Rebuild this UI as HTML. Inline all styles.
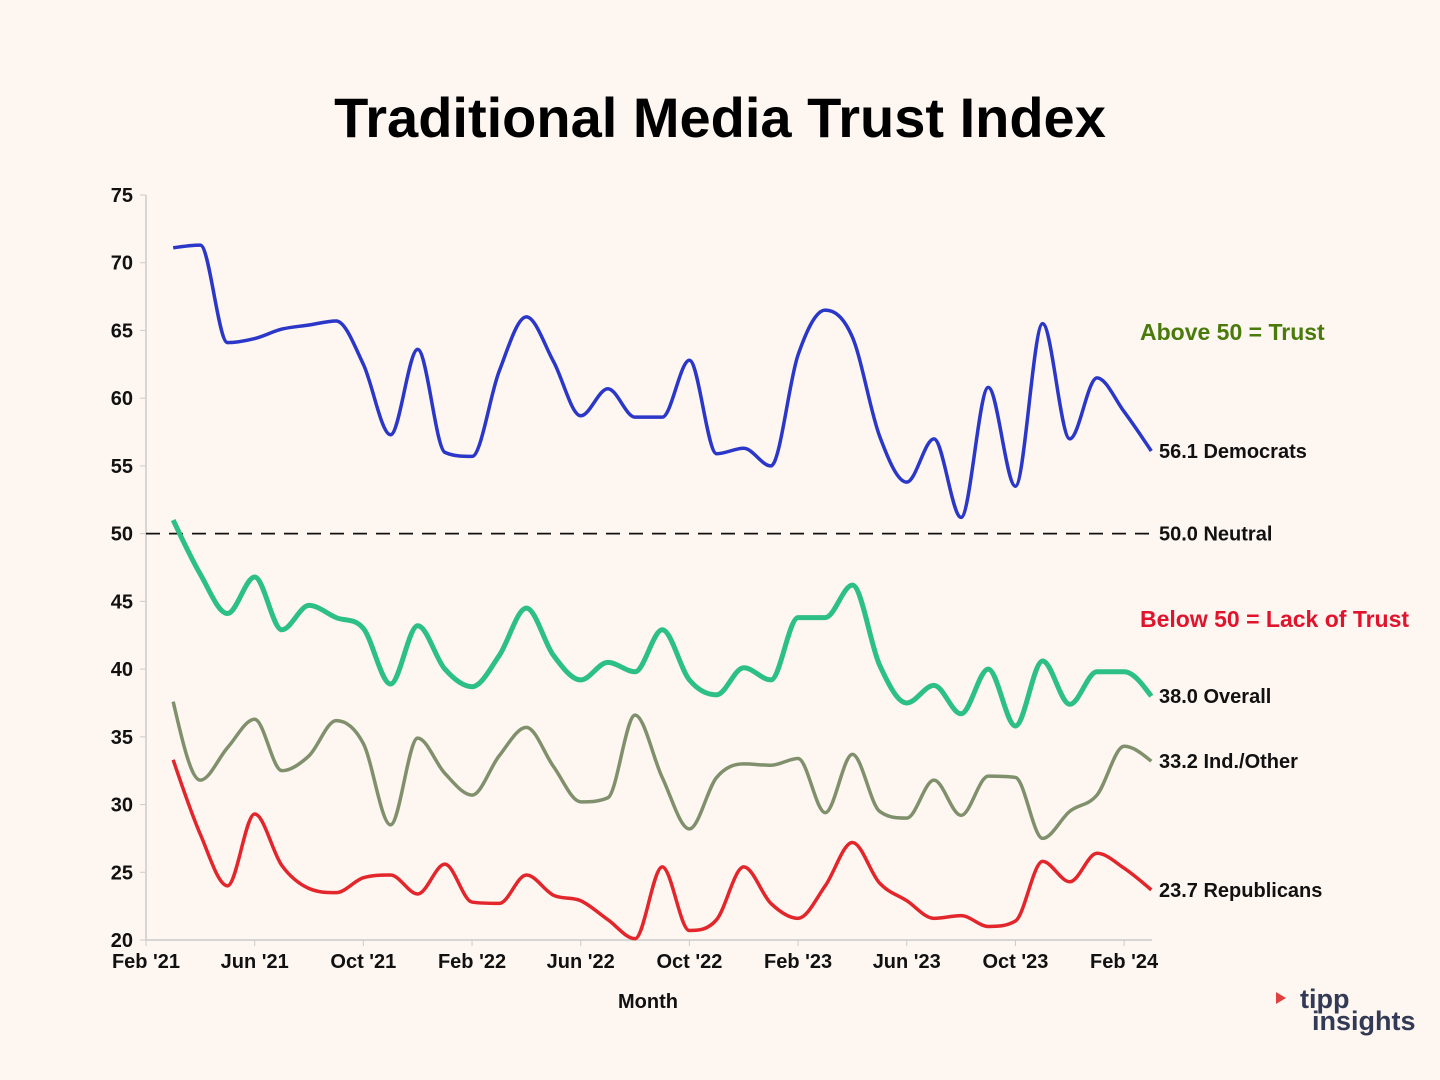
<!DOCTYPE html>
<html><head><meta charset="utf-8"><style>
body{margin:0;background:#fdf6f1;}
svg{display:block;font-family:"Liberation Sans",sans-serif;}
</style></head><body>
<svg id="chart" width="1440" height="1080">
<rect width="1440" height="1080" fill="#fdf6f1"/>
<text x="720" y="137" text-anchor="middle" font-size="56" font-weight="bold" fill="#000">Traditional Media Trust Index</text>
<g id="axes"></g>
<g id="series"></g>
<text x="648" y="1008" text-anchor="middle" font-size="20" font-weight="bold" fill="#111">Month</text>
<text x="1140" y="340" font-size="23" font-weight="bold" fill="#4a7a0c">Above 50 = Trust</text>
<text x="1140" y="627" font-size="23" font-weight="bold" fill="#e0142c">Below 50 = Lack of Trust</text>
<g>
<path d="M1276 992 l10 6 l-10 6 z" fill="#e04040"/>
<text x="1300" y="1008" font-size="27" font-weight="bold" fill="#333a55">tipp</text>
<text x="1312" y="1030" font-size="27" font-weight="bold" fill="#333a55">insights</text>
</g>
</svg>
<script>
const months = 37;
const xTickLabels = ["Feb '21","Jun '21","Oct '21","Feb '22","Jun '22","Oct '22","Feb '23","Jun '23","Oct '23","Feb '24"];
const yTicks = [20,25,30,35,40,45,50,55,60,65,70,75];
const democrats = [71.1,71.3,64.1,64.4,65.1,65.4,65.7,62.5,57.3,63.6,56.0,55.7,62.0,66.0,62.7,58.7,60.7,58.6,58.6,62.8,55.9,56.3,55.0,63.2,66.5,64.5,57.2,53.8,57.0,51.2,60.8,53.5,65.5,57.0,61.5,59.0,56.1];
const overall = [51.0,47.0,44.1,46.8,42.9,44.7,43.8,43.0,38.9,43.2,40.0,38.7,41.0,44.5,41.0,39.2,40.5,39.8,42.9,39.2,38.1,40.1,39.2,43.8,43.8,46.2,40.3,37.5,38.8,36.7,40.0,35.8,40.6,37.4,39.8,39.8,38.0];
const independents = [37.6,31.8,34.2,36.3,32.5,33.6,36.2,34.5,28.5,34.9,32.3,30.7,33.6,35.7,32.8,30.2,30.5,36.6,32.0,28.2,32.0,33.0,32.9,33.4,29.4,33.7,29.5,29.0,31.8,29.2,32.1,32.0,27.5,29.5,30.7,34.3,33.2];
const republicans = [33.3,27.8,24.0,29.3,25.5,23.8,23.5,24.6,24.8,23.4,25.6,22.8,22.7,24.8,23.3,22.9,21.5,20.1,25.4,20.7,21.5,25.4,22.7,21.6,24.0,27.2,24.2,22.9,21.6,21.8,21.0,21.4,25.8,24.3,26.4,25.3,23.7];
const neutral = 50;

const NS="http://www.w3.org/2000/svg";
const x = m => 146 + m*27.17;
const y = v => 195 + (75 - v)*745/55;
function mk(tag, attrs, parent){const e=document.createElementNS(NS,tag);for(const k in attrs)e.setAttribute(k,attrs[k]);parent.appendChild(e);return e;}
const axes=document.getElementById('axes'), series=document.getElementById('series');

const yAxis=mk('line',{x1:146,y1:195,x2:146,y2:940,stroke:'#ccc','stroke-width':1.5},axes);


const xAxis=mk('line',{x1:146,y1:940,x2:1152,y2:940,stroke:'#ccc','stroke-width':1.5},axes);


yTicks.forEach(v=>{
  mk('line',{x1:140,y1:y(v),x2:146,y2:y(v),stroke:'#ccc'},axes);
  const t=mk('text',{x:133,y:y(v)+7,'text-anchor':'end','font-size':20,'font-weight':'bold',fill:'#111'},axes);
  t.textContent=v;
  
  
});
xTickLabels.forEach((l,i)=>{
  const xx=x(i*4);
  mk('line',{x1:xx,y1:940,x2:xx,y2:946,stroke:'#ccc'},axes);
  const t=mk('text',{x:xx,y:968,'text-anchor':'middle','font-size':20,'font-weight':'bold',fill:'#111'},axes);
  t.textContent=l;
  
  
});
const nl=mk('line',{x1:146,y1:y(neutral),x2:1150,y2:y(neutral),stroke:'#111','stroke-width':1.8,'stroke-dasharray':'14 9'},series);



// monotone cubic (Fritsch-Carlson, like d3.curveMonotoneX)
function smooth(vals){
  const p=vals.map((v,i)=>[x(i+1),y(v)]);
  const n=p.length, h=27.17;
  const s=[]; for(let i=0;i<n-1;i++) s.push((p[i+1][1]-p[i][1])/h);
  const t=new Array(n);
  for(let i=1;i<n-1;i++){
    if(s[i-1]*s[i]<=0) t[i]=0;
    else { const m=(s[i-1]+s[i])/2; t[i]=Math.sign(m)*Math.min(Math.abs(m),3*Math.min(Math.abs(s[i-1]),Math.abs(s[i]))); }
  }
  t[0]=(3*s[0]-t[1])/2; t[n-1]=(3*s[n-2]-t[n-2])/2;
  let d=`M${p[0][0]},${p[0][1]}`;
  for(let i=0;i<n-1;i++){
    d+=` C${p[i][0]+h/3},${p[i][1]+t[i]*h/3} ${p[i+1][0]-h/3},${p[i+1][1]-t[i+1]*h/3} ${p[i+1][0]},${p[i+1][1]}`;
  }
  return d;
}
function addSeries(vals,color,w,name,label){
  const p=mk('path',{d:smooth(vals),fill:'none',stroke:color,'stroke-width':w,'stroke-linejoin':'round'},series);
  
  
  const last=vals[vals.length-1];
  const t=mk('text',{x:1159,y:y(last)+7,'font-size':20,'font-weight':'bold',fill:'#111'},series);
  t.textContent=last.toFixed(1)+' '+label;
  
  
}
addSeries(independents,'#80906c',3.5,'independents-line','Ind./Other');
addSeries(republicans,'#e2262b',3.5,'republicans-line','Republicans');
addSeries(overall,'#2cbf86',5,'overall-line','Overall');
addSeries(democrats,'#2a37c8',3.5,'democrats-line','Democrats');
const nt=mk('text',{x:1159,y:y(neutral)+7,'font-size':20,'font-weight':'bold',fill:'#111'},series);
nt.textContent=neutral.toFixed(1)+' Neutral';


</script>
</body></html>
